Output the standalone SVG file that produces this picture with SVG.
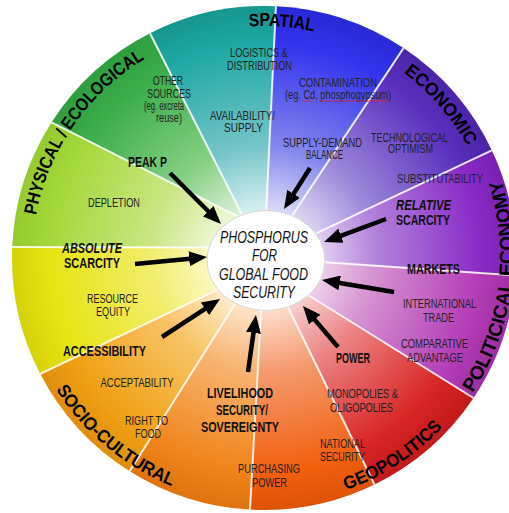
<svg xmlns="http://www.w3.org/2000/svg" xmlns:xlink="http://www.w3.org/1999/xlink" width="509" height="513" viewBox="0 0 509 513">
<style>
text{font-family:"Liberation Sans",Arial,Helvetica,sans-serif;}
.lbl{font-size:12px;fill:#222;text-anchor:middle;}
.b{font-size:14px;font-weight:bold;fill:#111;text-anchor:middle;}
.bi{font-size:14px;font-weight:bold;font-style:italic;fill:#111;text-anchor:middle;}
.cat{font-size:18px;font-weight:bold;fill:#000;}
.ctr{font-size:16px;font-style:italic;fill:#111;text-anchor:middle;}
.div{stroke:#fff;stroke-width:2;stroke-opacity:0.85;fill:none;}
.arr{stroke:#000;stroke-width:4.5;fill:none;marker-end:url(#ah);}
.sq{stroke:#e02020;stroke-width:0.8;fill:none;}
</style>
<defs>
<marker id="ah" markerUnits="userSpaceOnUse" markerWidth="18" markerHeight="15" viewBox="0 0 18 15" refX="6" refY="7.5" orient="auto"><path d="M0,0 L18,7.5 L0,15 z" fill="#000"/></marker>
<radialGradient id="gTeal" gradientUnits="userSpaceOnUse" cx="264" cy="258" r="252"><stop offset="0" stop-color="#fff"/><stop offset="0.2" stop-color="#d4eef1"/><stop offset="0.45" stop-color="#74c4c8"/><stop offset="0.85" stop-color="#1ea8a4"/><stop offset="1" stop-color="#16968f"/></radialGradient>
<radialGradient id="gBlue" gradientUnits="userSpaceOnUse" cx="264" cy="258" r="252"><stop offset="0" stop-color="#fff"/><stop offset="0.2" stop-color="#d8d8fa"/><stop offset="0.45" stop-color="#8285ec"/><stop offset="0.85" stop-color="#3434ee"/><stop offset="1" stop-color="#2828d6"/></radialGradient>
<radialGradient id="gEcon" gradientUnits="userSpaceOnUse" cx="264" cy="258" r="252"><stop offset="0" stop-color="#fff"/><stop offset="0.2" stop-color="#e0d8f4"/><stop offset="0.45" stop-color="#9c88da"/><stop offset="0.85" stop-color="#5a30be"/><stop offset="1" stop-color="#4a24a6"/></radialGradient>
<radialGradient id="gRel" gradientUnits="userSpaceOnUse" cx="264" cy="258" r="252"><stop offset="0" stop-color="#fff"/><stop offset="0.2" stop-color="#e8d8f4"/><stop offset="0.45" stop-color="#b282dc"/><stop offset="0.85" stop-color="#8a2cc8"/><stop offset="1" stop-color="#7820b2"/></radialGradient>
<radialGradient id="gMkt" gradientUnits="userSpaceOnUse" cx="264" cy="258" r="252"><stop offset="0" stop-color="#fff"/><stop offset="0.2" stop-color="#f2d8ee"/><stop offset="0.45" stop-color="#d490d0"/><stop offset="0.85" stop-color="#b43cb8"/><stop offset="1" stop-color="#9e2ea2"/></radialGradient>
<radialGradient id="gRed" gradientUnits="userSpaceOnUse" cx="264" cy="258" r="252"><stop offset="0" stop-color="#fff"/><stop offset="0.2" stop-color="#f8d4d4"/><stop offset="0.45" stop-color="#ec8484"/><stop offset="0.85" stop-color="#d82424"/><stop offset="1" stop-color="#c21a1a"/></radialGradient>
<radialGradient id="gOrRed" gradientUnits="userSpaceOnUse" cx="264" cy="258" r="252"><stop offset="0" stop-color="#fff"/><stop offset="0.2" stop-color="#fde0cf"/><stop offset="0.45" stop-color="#f59a70"/><stop offset="0.85" stop-color="#f2600e"/><stop offset="1" stop-color="#de5208"/></radialGradient>
<radialGradient id="gOr" gradientUnits="userSpaceOnUse" cx="264" cy="258" r="252"><stop offset="0" stop-color="#fff"/><stop offset="0.2" stop-color="#fde6cc"/><stop offset="0.45" stop-color="#f8b470"/><stop offset="0.85" stop-color="#f0841a"/><stop offset="1" stop-color="#de7410"/></radialGradient>
<radialGradient id="gOrYel" gradientUnits="userSpaceOnUse" cx="264" cy="258" r="252"><stop offset="0" stop-color="#fff"/><stop offset="0.2" stop-color="#feeed0"/><stop offset="0.45" stop-color="#f8c468"/><stop offset="0.85" stop-color="#f0a014"/><stop offset="1" stop-color="#de8e0e"/></radialGradient>
<radialGradient id="gYel" gradientUnits="userSpaceOnUse" cx="264" cy="258" r="252"><stop offset="0" stop-color="#fff"/><stop offset="0.2" stop-color="#fcf9c8"/><stop offset="0.45" stop-color="#f2ed6c"/><stop offset="0.85" stop-color="#e6e412"/><stop offset="1" stop-color="#d6d20a"/></radialGradient>
<radialGradient id="gYGr" gradientUnits="userSpaceOnUse" cx="264" cy="258" r="252"><stop offset="0" stop-color="#fff"/><stop offset="0.2" stop-color="#eef8d6"/><stop offset="0.45" stop-color="#cae684"/><stop offset="0.85" stop-color="#a4d83a"/><stop offset="1" stop-color="#94ca2e"/></radialGradient>
<radialGradient id="gGrn" gradientUnits="userSpaceOnUse" cx="264" cy="258" r="252"><stop offset="0" stop-color="#fff"/><stop offset="0.2" stop-color="#dcf0d8"/><stop offset="0.45" stop-color="#86d084"/><stop offset="0.85" stop-color="#3aac48"/><stop offset="1" stop-color="#2e9e3e"/></radialGradient>
<path id="arcPhys" d="M36,215.3 A232,232 0 0 1 145.2,58.7"/>
<path id="arcSpatial" d="M249,26.5 A232,232 0 0 1 313.8,31.4"/>
<path id="arcEcon" d="M403.6,72.7 A232,232 0 0 1 467.7,146.9"/>
<path id="arcSocio" d="M56.1,389.5 A246,246 0 0 0 172.2,486.2"/>
<path id="arcGeo" d="M346.1,489.9 A246,246 0 0 0 443,426.7"/>
<path id="arcPol" d="M472.5,393 A250,250 0 0 0 480.5,133"/>
</defs>

<g id="wheel">
<path fill="url(#gGrn)" d="M250,222.7 L51.6,122.3 A252,252 0 0 1 150,33.3 L264,258 Z"/>
<path fill="url(#gTeal)" d="M264,258 L150,33.3 A252,252 0 0 1 275.9,6.3 Z"/>
<path fill="url(#gBlue)" d="M264,258 L275.9,6.3 A252,252 0 0 1 403.5,48.1 Z"/>
<path fill="url(#gEcon)" d="M264,258 L403.5,48.1 A252,252 0 0 1 491.8,150.3 Z"/>
<path fill="url(#gRel)" d="M264,258 L491.8,150.3 A252,252 0 0 1 515.4,275.4 Z"/>
<path fill="url(#gMkt)" d="M264,258 L515.4,275.4 A252,252 0 0 1 473.5,398 L300,290 Z"/>
<path fill="url(#gRed)" d="M300,290 L473.5,398 A252,252 0 0 1 374.5,484.5 L264,258 Z"/>
<path fill="url(#gOrRed)" d="M264,258 L374.5,484.5 A252,252 0 0 1 250,509.6 Z"/>
<path fill="url(#gOr)" d="M264,258 L250,509.6 A252,252 0 0 1 129.7,471.2 Z"/>
<path fill="url(#gOrYel)" d="M264,258 L129.7,471.2 A252,252 0 0 1 40.3,373.9 L222,287.6 Z"/>
<path fill="url(#gYel)" d="M222,287.6 L40.3,373.9 A252,252 0 0 1 12.2,247 L215,247.5 L264,258 Z"/>
<path fill="url(#gYGr)" d="M215,247.5 L12.2,247 A252,252 0 0 1 51.6,122.3 L250,222.7 L264,258 Z"/>
</g>

<g id="dividers">
<line class="div" x1="264" y1="258" x2="150" y2="33.3"/>
<line class="div" x1="264" y1="258" x2="275.9" y2="6.3"/>
<line class="div" x1="264" y1="258" x2="403.5" y2="48.1"/>
<line class="div" x1="264" y1="258" x2="491.8" y2="150.3"/>
<line class="div" x1="264" y1="258" x2="515.4" y2="275.4"/>
<line class="div" x1="300" y1="290" x2="473.5" y2="398"/>
<line class="div" x1="264" y1="258" x2="374.5" y2="484.5"/>
<line class="div" x1="264" y1="258" x2="250" y2="509.6"/>
<line class="div" x1="264" y1="258" x2="129.7" y2="471.2"/>
<line class="div" x1="222" y1="287.6" x2="40.3" y2="373.9"/>
<line class="div" x1="215" y1="247.5" x2="12.2" y2="247"/>
<line class="div" x1="250" y1="222.7" x2="51.6" y2="122.3"/>
</g>

<g id="categories">
<text class="cat" id="cat-physical"><textPath xlink:href="#arcPhys" href="#arcPhys" textLength="196" lengthAdjust="spacingAndGlyphs">PHYSICAL / ECOLOGICAL</textPath></text>
<text class="cat" id="cat-spatial"><textPath xlink:href="#arcSpatial" href="#arcSpatial" textLength="65" lengthAdjust="spacingAndGlyphs">SPATIAL</textPath></text>
<text class="cat" id="cat-economic"><textPath xlink:href="#arcEcon" href="#arcEcon" textLength="98" lengthAdjust="spacingAndGlyphs">ECONOMIC</textPath></text>
<text class="cat" id="cat-socio"><textPath xlink:href="#arcSocio" href="#arcSocio" textLength="153" lengthAdjust="spacingAndGlyphs">SOCIO-CULTURAL</textPath></text>
<text class="cat" id="cat-geo"><textPath xlink:href="#arcGeo" href="#arcGeo" textLength="116" lengthAdjust="spacingAndGlyphs">GEOPOLITICS</textPath></text>
<text class="cat" id="cat-pol" style="font-size:19px"><textPath xlink:href="#arcPol" href="#arcPol">POLITICICAL ECONOMY</textPath></text>
</g>

<g id="n-logistics"><text class="lbl" x="259" y="57" textLength="58" lengthAdjust="spacingAndGlyphs">LOGISTICS &amp;</text><text class="lbl" x="259.5" y="70" textLength="65" lengthAdjust="spacingAndGlyphs">DISTRIBUTION</text></g>
<g id="n-availability"><text class="lbl" x="242.5" y="120" textLength="65" lengthAdjust="spacingAndGlyphs">AVAILABILITY/</text><text class="lbl" x="243.5" y="132" textLength="39" lengthAdjust="spacingAndGlyphs">SUPPLY</text></g>
<g id="n-other"><text class="lbl" x="168" y="85" textLength="30" lengthAdjust="spacingAndGlyphs">OTHER</text><text class="lbl" x="169" y="98" textLength="44" lengthAdjust="spacingAndGlyphs">SOURCES</text><text class="lbl" x="164" y="110" textLength="40" lengthAdjust="spacingAndGlyphs">(eg. excreta</text><text class="lbl" x="169" y="122" textLength="26" lengthAdjust="spacingAndGlyphs">reuse)</text></g>
<g id="n-peak"><text class="b" x="147.5" y="167" textLength="39" lengthAdjust="spacingAndGlyphs">PEAK P</text></g>
<g id="n-depletion"><text class="lbl" x="114" y="207" textLength="52" lengthAdjust="spacingAndGlyphs">DEPLETION</text></g>
<g id="n-absolute"><text class="bi" x="92" y="253" textLength="60" lengthAdjust="spacingAndGlyphs">ABSOLUTE</text><text class="b" x="92" y="268" textLength="56" lengthAdjust="spacingAndGlyphs">SCARCITY</text></g>
<g id="n-equity"><text class="lbl" x="112.5" y="303" textLength="51" lengthAdjust="spacingAndGlyphs">RESOURCE</text><text class="lbl" x="113" y="316" textLength="34" lengthAdjust="spacingAndGlyphs">EQUITY</text></g>
<g id="n-access"><text class="b" x="104.5" y="356" textLength="83" lengthAdjust="spacingAndGlyphs">ACCESSIBILITY</text></g>
<g id="n-accept"><text class="lbl" x="137" y="387" textLength="73" lengthAdjust="spacingAndGlyphs">ACCEPTABILITY</text></g>
<g id="n-right"><text class="lbl" x="146.5" y="425" textLength="43" lengthAdjust="spacingAndGlyphs">RIGHT TO</text><text class="lbl" x="148" y="438" textLength="26" lengthAdjust="spacingAndGlyphs">FOOD</text></g>
<g id="n-livelihood"><text class="b" x="240" y="398" textLength="66" lengthAdjust="spacingAndGlyphs">LIVELIHOOD</text><text class="b" x="242" y="415" textLength="52" lengthAdjust="spacingAndGlyphs">SECURITY/</text><text class="b" x="240" y="432" textLength="78" lengthAdjust="spacingAndGlyphs">SOVEREIGNTY</text></g>
<g id="n-purchasing"><text class="lbl" x="269" y="473" textLength="62" lengthAdjust="spacingAndGlyphs">PURCHASING</text><text class="lbl" x="269.5" y="487" textLength="35" lengthAdjust="spacingAndGlyphs">POWER</text></g>
<g id="n-national"><text class="lbl" x="342.5" y="448" textLength="45" lengthAdjust="spacingAndGlyphs">NATIONAL</text><text class="lbl" x="342.5" y="461" textLength="45" lengthAdjust="spacingAndGlyphs">SECURITY</text></g>
<g id="n-monopolies"><text class="lbl" x="362.5" y="398" textLength="71" lengthAdjust="spacingAndGlyphs">MONOPOLIES &amp;</text><text class="lbl" x="361.5" y="412" textLength="63" lengthAdjust="spacingAndGlyphs">OLIGOPOLIES</text></g>
<g id="n-power"><text class="b" x="353" y="363" textLength="34" lengthAdjust="spacingAndGlyphs">POWER</text></g>
<g id="n-comparative"><text class="lbl" x="434.5" y="348" textLength="67" lengthAdjust="spacingAndGlyphs">COMPARATIVE</text><text class="lbl" x="435" y="362" textLength="56" lengthAdjust="spacingAndGlyphs">ADVANTAGE</text></g>
<g id="n-trade"><text class="lbl" x="439.5" y="308" textLength="73" lengthAdjust="spacingAndGlyphs">INTERNATIONAL</text><text class="lbl" x="438.5" y="322" textLength="31" lengthAdjust="spacingAndGlyphs">TRADE</text></g>
<g id="n-markets"><text class="b" x="433.5" y="274" textLength="53" lengthAdjust="spacingAndGlyphs">MARKETS</text></g>
<g id="n-relative"><text class="bi" x="423.5" y="210" textLength="55" lengthAdjust="spacingAndGlyphs">RELATIVE</text><text class="b" x="423" y="225" textLength="54" lengthAdjust="spacingAndGlyphs">SCARCITY</text></g>
<g id="n-subst"><text class="lbl" x="440" y="183" textLength="86" lengthAdjust="spacingAndGlyphs">SUBSTITUTABILITY</text></g>
<g id="n-tech"><text class="lbl" x="409.5" y="142" textLength="77" lengthAdjust="spacingAndGlyphs">TECHNOLOGICAL</text><text class="lbl" x="410.5" y="153" textLength="45" lengthAdjust="spacingAndGlyphs">OPTIMISM</text></g>
<g id="n-supply"><text class="lbl" x="322.5" y="147" textLength="79" lengthAdjust="spacingAndGlyphs">SUPPLY-DEMAND</text><text class="lbl" x="324.5" y="159" textLength="37" lengthAdjust="spacingAndGlyphs">BALANCE</text></g>
<g id="n-contam"><text class="lbl" x="338" y="87" textLength="78" lengthAdjust="spacingAndGlyphs">CONTAMINATION</text><text class="lbl" x="338" y="99" textLength="106" lengthAdjust="spacingAndGlyphs">(eg. Cd, phosphogypsum)</text>
<path class="sq" d="M302,101.5 l1.5,-1 l1.5,1 l1.5,-1 l1.5,1 l1.5,-1 l1.5,1 l1.5,-1"/>
<path class="sq" d="M320,101.5 l1.5,-1 l1.5,1 l1.5,-1 l1.5,1 l1.5,-1 l1.5,1 l1.5,-1 l1.5,1 l1.5,-1 l1.5,1 l1.5,-1 l1.5,1 l1.5,-1 l1.5,1 l1.5,-1 l1.5,1 l1.5,-1 l1.5,1 l1.5,-1 l1.5,1 l1.5,-1 l1.5,1 l1.5,-1 l1.5,1 l1.5,-1 l1.5,1 l1.5,-1 l1.5,1 l1.5,-1 l1.5,1 l1.5,-1 l1.5,1 l1.5,-1 l1.5,1 l1.5,-1 l1.5,1 l1.5,-1 l1.5,1 l1.5,-1 l1.5,1 l1.5,-1 l1.5,1 l1.5,-1 l1.5,1 l1.5,-1 l1.5,1"/>
</g>

<g id="connectors">
<line class="arr" x1="170" y1="173" x2="212.5" y2="215.5"/>
<line class="arr" x1="310" y1="168" x2="290.4" y2="198.9"/>
<line class="arr" x1="386" y1="219" x2="335.3" y2="237.8"/>
<line class="arr" x1="394" y1="292" x2="333.8" y2="282"/>
<line class="arr" x1="338" y1="347" x2="310.8" y2="315.1"/>
<line class="arr" x1="248" y1="372" x2="254.3" y2="326.9"/>
<line class="arr" x1="162" y1="337" x2="210" y2="305.6"/>
<line class="arr" x1="135" y1="264" x2="195.1" y2="258.2"/>
</g>

<g id="center">
<ellipse cx="266" cy="260.5" rx="59" ry="50" fill="#fff" stroke="#d6d6d6" stroke-width="1"/>
<text class="ctr" x="264" y="243" textLength="88" lengthAdjust="spacingAndGlyphs">PHOSPHORUS</text>
<text class="ctr" x="264.5" y="261" textLength="25" lengthAdjust="spacingAndGlyphs">FOR</text>
<text class="ctr" x="263.5" y="280" textLength="89" lengthAdjust="spacingAndGlyphs">GLOBAL FOOD</text>
<text class="ctr" x="264" y="298" textLength="62" lengthAdjust="spacingAndGlyphs">SECURITY</text>
</g>
</svg>
